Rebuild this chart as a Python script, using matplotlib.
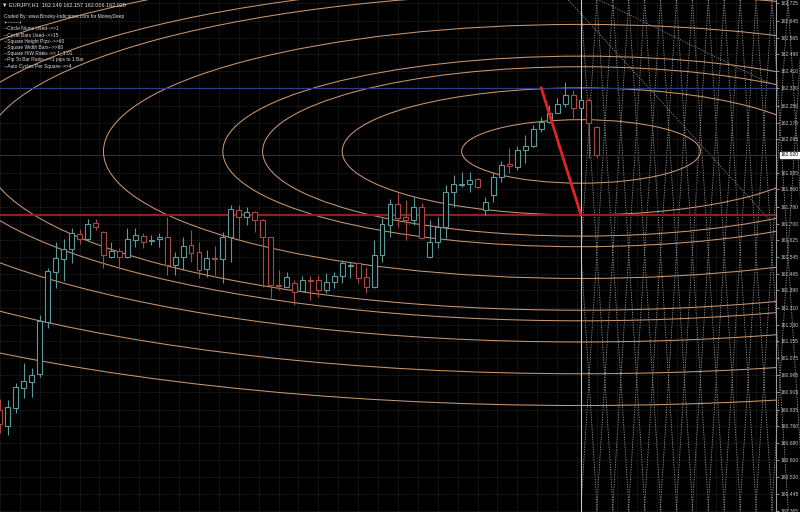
import numpy as np
import matplotlib.pyplot as plt
from matplotlib.patches import Ellipse, Rectangle
from matplotlib.transforms import blended_transform_factory

# EURJPY H1 candles, oldest first
opens = [160.834, 160.759, 160.843, 160.936, 160.964, 161.001, 161.243, 161.476, 161.536, 161.583,
         161.652, 161.629, 161.704, 161.662, 161.545, 161.573, 161.545, 161.625, 161.643, 161.618,
         161.628, 161.640, 161.508, 161.547, 161.601, 161.570, 161.488, 161.539, 161.535, 161.640,
         161.764, 161.733, 161.756, 161.718, 161.637, 161.415, 161.407, 161.423, 161.389, 161.438,
         161.438, 161.392, 161.431, 161.457, 161.504, 161.516, 161.454, 161.407, 161.555, 161.694,
         161.792, 161.730, 161.718, 161.777, 161.547, 161.617, 161.686, 161.849, 161.880, 161.885,
         161.907, 161.764, 161.834, 161.919, 161.977, 161.964, 162.043, 162.060, 162.139, 162.175,
         162.217, 162.257, 162.299, 162.237, 162.276, 162.149]
highs = [160.885, 160.880, 160.959, 161.052, 161.029, 161.276, 161.494, 161.615, 161.629, 161.680,
         161.676, 161.722, 161.722, 161.664, 161.615, 161.587, 161.680, 161.680, 161.657, 161.648,
         161.658, 161.733, 161.570, 161.640, 161.671, 161.617, 161.578, 161.597, 161.663, 161.787,
         161.787, 161.779, 161.761, 161.720, 161.639, 161.485, 161.477, 161.438, 161.457, 161.457,
         161.462, 161.471, 161.477, 161.531, 161.524, 161.524, 161.500, 161.625, 161.727, 161.814,
         161.845, 161.811, 161.823, 161.795, 161.718, 161.733, 161.880, 161.927, 161.942, 161.942,
         161.911, 161.826, 161.936, 161.993, 162.051, 162.062, 162.113, 162.160, 162.198, 162.253,
         162.284, 162.361, 162.322, 162.284, 162.284, 162.157]
lows = [160.727, 160.717, 160.820, 160.890, 160.894, 160.987, 161.215, 161.401, 161.434, 161.518,
        161.606, 161.620, 161.671, 161.494, 161.543, 161.490, 161.543, 161.592, 161.587, 161.601,
        161.593, 161.462, 161.462, 161.485, 161.524, 161.446, 161.454, 161.462, 161.426, 161.522,
        161.625, 161.694, 161.663, 161.407, 161.353, 161.392, 161.405, 161.322, 161.387, 161.345,
        161.361, 161.378, 161.400, 161.423, 161.446, 161.426, 161.377, 161.400, 161.522, 161.640,
        161.686, 161.625, 161.694, 161.630, 161.539, 161.586, 161.632, 161.779, 161.870, 161.849,
        161.865, 161.741, 161.803, 161.896, 161.935, 161.950, 161.981, 162.056, 162.128, 162.167,
        162.214, 162.245, 162.191, 162.233, 162.005, 162.006]
closes = [160.769, 160.848, 160.941, 160.969, 160.997, 161.248, 161.480, 161.541, 161.583, 161.657,
          161.629, 161.699, 161.685, 161.555, 161.573, 161.545, 161.629, 161.648, 161.615, 161.625,
          161.640, 161.508, 161.547, 161.597, 161.565, 161.485, 161.539, 161.535, 161.640, 161.767,
          161.733, 161.756, 161.718, 161.637, 161.415, 161.410, 161.451, 161.384, 161.438, 161.435,
          161.392, 161.431, 161.457, 161.516, 161.508, 161.446, 161.407, 161.555, 161.699, 161.792,
          161.726, 161.718, 161.777, 161.632, 161.617, 161.686, 161.849, 161.885, 161.885, 161.904,
          161.870, 161.803, 161.919, 161.973, 161.969, 162.041, 162.060, 162.141, 162.175, 162.217,
          162.257, 162.299, 162.237, 162.276, 162.167, 162.020]

price_ticks = [162.725, 162.645, 162.565, 162.490, 162.410, 162.330, 162.250, 162.170, 162.095,
               161.935, 161.860, 161.780, 161.700, 161.625, 161.545, 161.465, 161.390, 161.310,
               161.230, 161.155, 161.075, 160.995, 160.915, 160.835, 160.760, 160.680, 160.600,
               160.520, 160.445, 160.365]

# indicator levels
high_level = 162.332      # blue line
low_level = 161.741       # red line
pivot_bar = 73            # white cycle line
swing_bar = 68            # start of the red swing
cycle_bars = 15
ring_nums = [1, 2, 3, 4, 5, 6, 7, 8]
square_rings = [2.667, 5.333]
square_bars = 2           # lattice column width
lattice_slope = 1.7       # bars per yen
diag1_bars, diag1_prices = [71.4, 96.6], [162.741, 161.722]
diag2_bars, diag2_prices = [75.3, 96.6], [162.741, 162.355]

header = "\u25bc EURJPY,H1  162.149 162.157 162.006 162.020"
info_lines = ["Coded By: www.Brooky-Indicators.com for MoneyDeep",
              "+--------+",
              "--Circle Nums Used-->>1",
              "--Cycle Bars Used-->>15",
              "--Square Height Pips-->>60",
              "--Square Width Bars-->>60",
              "--Square H/W Ratio-->> 1_1:01",
              "--Pip To Bar Ratio-->>1 pips to 1 Bar",
              "--Auto Cycles Per Square-->>4"]

x_min, x_max = 0.09, 96.6
y_min, y_max = 160.359, 162.741

bull_col = '#5a9a9a'
bear_col = '#a84a42'
ring_col = '#c9976f'
grid_col = '#2a2a2a'

plt.rcParams['font.family'] = ['Liberation Sans', 'DejaVu Sans']
fig = plt.figure(figsize=(8, 5.12), dpi=100, facecolor='black')
ax = fig.add_axes([0, 0, 776 / 800, 1], facecolor='black')
ax.set_xlim(x_min, x_max)
ax.set_ylim(y_min, y_max)

# grid
ax.set_xticks(np.arange(0, 100, 2.5))
ax.set_yticks(price_ticks)
ax.grid(True, color=grid_col, linestyle=(0, (1, 1)), linewidth=0.6, zorder=0)
ax.tick_params(axis='x', bottom=False, labelbottom=False)
ax.yaxis.tick_right()
ax.tick_params(axis='y', colors='#c8c8c8', labelsize=3.6, length=2, pad=1.5, width=0.5)
ax.set_yticklabels(['%.3f' % t for t in price_ticks])
for s in ['top', 'left', 'bottom']:
    ax.spines[s].set_visible(False)
ax.spines['right'].set_color('#9a9a9a')
ax.spines['right'].set_linewidth(0.8)

# ellipses (cycle rings)
cy = (high_level + low_level) / 2
unit = (high_level - low_level) / 4
for k in ring_nums + square_rings:
    e = Ellipse((pivot_bar, cy), 2 * cycle_bars * k, 2 * unit * k, fill=False,
                edgecolor=ring_col, linewidth=0.75, zorder=2)
    ax.add_patch(e)

# lattice of the square
clip = Rectangle((pivot_bar, y_min), x_max - pivot_bar + 5, y_max - y_min, transform=ax.transData)
pp = np.array([y_max, y_min])
for j in range(-3, 15):
    base = pivot_bar + square_bars * j
    for sgn in (1, -1):
        ln, = ax.plot(base + sgn * lattice_slope * (y_max - pp), pp, color='#9c9c9c',
                      linestyle=(0, (1.5, 1.5)), linewidth=0.6, zorder=1)
        ln.set_clip_path(clip)
ax.plot(diag1_bars, diag1_prices, color='#8a8a8a', linestyle=(0, (1.5, 1.5)), linewidth=0.6, zorder=1)
ax.plot(diag2_bars, diag2_prices, color='#8a8a8a', linestyle=(0, (1.5, 1.5)), linewidth=0.6, zorder=1)

# levels
ax.axhline(high_level, color='#2e3e7e', linewidth=0.9, zorder=2)
ax.axhline(low_level, color='#8c2020', linewidth=1.6, zorder=2)
ax.axhline(closes[-1], color='#3c3c3c', linewidth=0.6, zorder=1)
ax.axvline(pivot_bar, color='#c8c8c8', linewidth=0.8, zorder=2)
ax.plot([swing_bar, pivot_bar], [high_level, low_level], color='#e02424', linewidth=2, zorder=4)

# candles
x = np.arange(len(opens))
o = np.array(opens)
c = np.array(closes)
cols = [bull_col if cc >= oo else bear_col for oo, cc in zip(o, c)]
ax.vlines(x, lows, highs, colors=cols, linewidth=0.8, zorder=3)
bottoms = np.minimum(o, c)
heights = np.maximum(np.abs(c - o), 0.002)
ax.bar(x, heights, bottom=bottoms, width=0.62, color='black', edgecolor=cols,
       linewidth=0.8, zorder=3)

# current price box
trans = blended_transform_factory(ax.transAxes, ax.transData)
ax.text(1.006, closes[-1], '%.3f' % closes[-1], transform=trans, fontsize=3.6, color='black',
        va='center', ha='left', clip_on=False,
        bbox=dict(boxstyle='square,pad=0.15', fc='white', ec='white'))

# header and indicator info
fig.text(2 / 800, 1 - 5 / 512, header, color='#e0e0e0', fontsize=4.0, va='center', ha='left')
for i, line in enumerate(info_lines):
    fig.text(4 / 800, 1 - (16.5 + 6.2 * i) / 512, line, color='#e0e0e0', fontsize=3.5,
             va='center', ha='left')

fig.savefig('out.png', dpi=100, facecolor='black')
